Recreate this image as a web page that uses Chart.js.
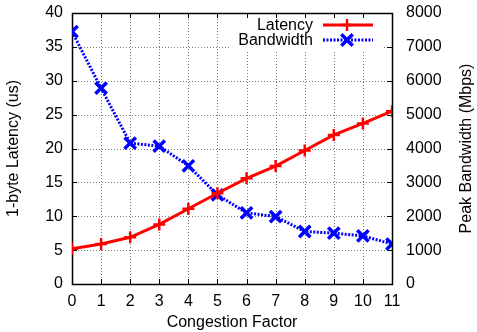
<!DOCTYPE html>
<html><head><meta charset="utf-8">
<script src="https://cdn.jsdelivr.net/npm/chart.js@4.4.1/dist/chart.umd.min.js"></script>
<style>html,body{margin:0;padding:0;background:#fff}#wrap{width:477px;height:332px;position:relative}</style>
</head><body><div id="wrap"><canvas id="c" width="477" height="332"></canvas></div>
<script>
const categories = [0,1,2,3,4,5,6,7,8,9,10,11];
const latency = [5.2,5.9,6.9,8.8,11.1,13.4,15.6,17.4,19.7,22.0,23.7,25.5];
const bandwidth = [7450,5780,4160,4070,3490,2630,2100,1990,1550,1500,1420,1180];
const xTicks = [0,1,2,3,4,5,6,7,8,9,10,11];
const yLeftTicks = [0,5,10,15,20,25,30,35,40];
const yRightTicks = [0,1000,2000,3000,4000,5000,6000,7000,8000];

const FONT = "'Liberation Sans', Arial, sans-serif";
const FS = 16;
const legendBox = {x0:229, x1:382, y0:14, y1:51};

function zeroPad(s){ s.paddingTop=0; s.paddingBottom=0; s.paddingLeft=0; s.paddingRight=0; }

const framePlugin = {
  id:'frame',
  beforeDatasetsDraw(chart){
    const ctx = chart.ctx, a = chart.chartArea;
    const xs = chart.scales.x, yl = chart.scales.y, yr = chart.scales.y2;
    ctx.save();
    ctx.strokeStyle = '#7a7a7a'; ctx.lineWidth = 1; ctx.setLineDash([1,2]);
    xTicks.forEach(v=>{ if(v===0||v===11) return; const px=Math.round(xs.getPixelForValue(v))+0.5;
      ctx.beginPath(); ctx.moveTo(px,a.top); ctx.lineTo(px,a.bottom); ctx.stroke(); });
    yLeftTicks.forEach(v=>{ if(v===0||v===40) return; const py=Math.round(yl.getPixelForValue(v))+0.5;
      ctx.beginPath(); ctx.moveTo(a.left,py); ctx.lineTo(a.right,py); ctx.stroke(); });
    ctx.setLineDash([]);
    ctx.fillStyle='#fff';
    ctx.fillRect(legendBox.x0, legendBox.y0, legendBox.x1-legendBox.x0, legendBox.y1-legendBox.y0);
    ctx.strokeStyle='#000'; ctx.lineWidth=1;
    const T=5;
    xTicks.forEach(v=>{ const px=Math.round(xs.getPixelForValue(v))+0.5;
      ctx.beginPath(); ctx.moveTo(px,a.bottom); ctx.lineTo(px,a.bottom-T);
      ctx.moveTo(px,a.top); ctx.lineTo(px,a.top+T); ctx.stroke(); });
    yLeftTicks.forEach(v=>{ const py=Math.round(yl.getPixelForValue(v))+0.5;
      ctx.beginPath(); ctx.moveTo(a.left,py); ctx.lineTo(a.left+T,py); ctx.stroke(); });
    yRightTicks.forEach(v=>{ const py=Math.round(yr.getPixelForValue(v))+0.5;
      ctx.beginPath(); ctx.moveTo(a.right,py); ctx.lineTo(a.right-T,py); ctx.stroke(); });
    ctx.lineWidth=1.5;
    ctx.strokeRect(Math.round(a.left)+0.5, Math.round(a.top)+0.5, Math.round(a.right-a.left), Math.round(a.bottom-a.top));
    // right axis title, reading bottom-to-top
    ctx.translate(467, (a.top+a.bottom)/2);
    ctx.rotate(-Math.PI/2);
    ctx.font = FS+"px "+FONT; ctx.fillStyle='#000'; ctx.textAlign='center'; ctx.textBaseline='middle';
    ctx.fillText('Peak Bandwidth (Mbps)', 0, 0);
    ctx.restore();
  },
  afterDatasetsDraw(chart){
    const ctx = chart.ctx;
    ctx.save();
    ctx.font = FS+"px "+FONT; ctx.fillStyle='#000'; ctx.textAlign='right'; ctx.textBaseline='middle';
    const ds = chart.data.datasets;
    const rows = [25, 40];
    ds.forEach((d,i)=>{
      const y = rows[i];
      ctx.fillText(d.label, 313, y + 0.5);
      ctx.strokeStyle=d.borderColor; ctx.lineWidth=d.borderWidth; ctx.setLineDash(d.borderDash||[]);
      ctx.beginPath(); ctx.moveTo(323,y); ctx.lineTo(373,y); ctx.stroke();
      ctx.setLineDash([]);
      ctx.lineWidth = d.pointBorderWidth;
      const r = d.pointRadius, cx=347;
      ctx.beginPath();
      if(d.pointStyle==='cross'){ ctx.moveTo(cx-r,y); ctx.lineTo(cx+r,y); ctx.moveTo(cx,y-r); ctx.lineTo(cx,y+r); }
      else { const q=r*0.7071; ctx.moveTo(cx-q,y-q); ctx.lineTo(cx+q,y+q); ctx.moveTo(cx+q,y-q); ctx.lineTo(cx-q,y+q); }
      ctx.stroke();
    });
    ctx.restore();
  }
};

new Chart(document.getElementById('c'), {
  type:'line',
  data:{ datasets:[
    { label:'Latency', yAxisID:'y', data: categories.map((c,i)=>({x:c,y:latency[i]})),
      borderColor:'#ff0000', backgroundColor:'#ff0000', borderWidth:3,
      pointStyle:'cross', pointRadius:6, pointBorderWidth:2.5, pointBorderColor:'#ff0000', tension:0 },
    { label:'Bandwidth', yAxisID:'y2', data: categories.map((c,i)=>({x:c,y:bandwidth[i]})),
      borderColor:'#0000ff', backgroundColor:'#0000ff', borderWidth:3, borderDash:[2,1.5],
      pointStyle:'crossRot', pointRadius:8, pointBorderWidth:3.5, pointBorderColor:'#0000ff', tension:0 }
  ]},
  options:{
    responsive:false, animation:false, devicePixelRatio:1,
    layout:{padding:{top:13,left:0,right:0,bottom:0}},
    plugins:{legend:{display:false}, tooltip:{enabled:false}},
    scales:{
      x:{ type:'linear', min:0, max:11, position:'bottom',
        afterBuildTicks(s){ s.ticks = xTicks.map(v=>({value:v})); },
        afterFit(s){ s.height = 48; zeroPad(s); },
        grid:{display:false, drawTicks:false, tickLength:0}, border:{display:false},
        ticks:{ font:{family:FONT,size:FS}, color:'#000', padding:8, maxRotation:0, autoSkip:false },
        title:{ display:true, text:'Congestion Factor', font:{family:FONT,size:FS}, color:'#000', padding:{top:0,bottom:0} } },
      y:{ type:'linear', min:0, max:40, position:'left',
        afterBuildTicks(s){ s.ticks = yLeftTicks.map(v=>({value:v})); },
        afterFit(s){ s.width = 72; zeroPad(s); },
        grid:{display:false, drawTicks:false, tickLength:0}, border:{display:false},
        ticks:{ font:{family:FONT,size:FS}, color:'#000', padding:9 },
        title:{ display:true, text:'1-byte Latency (us)', font:{family:FONT,size:FS}, color:'#000', padding:{top:4,bottom:0} } },
      y2:{ type:'linear', min:0, max:8000, position:'right',
        afterBuildTicks(s){ s.ticks = yRightTicks.map(v=>({value:v})); },
        afterFit(s){ s.width = 85; zeroPad(s); },
        grid:{display:false, drawTicks:false, tickLength:0}, border:{display:false},
        ticks:{ font:{family:FONT,size:FS}, color:'#000', padding:14, callback:(v)=>String(v) } }
    }
  },
  plugins:[framePlugin]
});
</script></body></html>
